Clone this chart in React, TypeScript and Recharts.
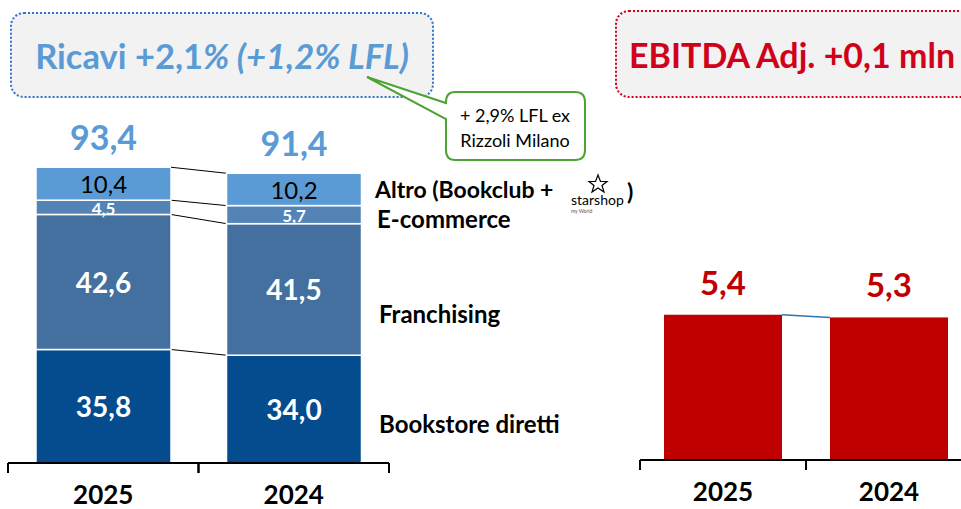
import React from 'react';
import { BarChart, Bar, XAxis, YAxis } from 'recharts';

const years = ['2025', '2024'];
const bookstore = [35.8, 34.0];
const franchising = [42.6, 41.5];
const ecommerce = [4.5, 5.7];
const altro = [10.4, 10.2];
const totals = [93.4, 91.4];
const ebitda = [5.4, 5.3];

const seriesKeys = ['bookstore', 'franchising', 'ecommerce', 'altro'];

const revenueData = years.map((year, i) => ({
  year,
  bookstore: bookstore[i],
  franchising: franchising[i],
  ecommerce: ecommerce[i],
  altro: altro[i],
  total: totals[i],
}));

const ebitdaData = years.map((year, i) => ({ year, value: ebitda[i] }));

const FONT = 'Lato, "Noto Sans", sans-serif';
const fmt = (v: number) => v.toFixed(1).replace('.', ',');

// left chart layout
const L_W = 400;
const L_H = 509;
const L_AXIS_H = 46;
const L_MARGIN = { top: 146, right: 11, bottom: 0, left: 8 };
const L_BAND = (L_W - L_MARGIN.left - L_MARGIN.right) / years.length;
const L_AXIS_Y = L_H - L_AXIS_H;

// right chart layout
const R_W = 373;
const R_H = 509;
const R_AXIS_H = 49;
const R_MARGIN = { top: 191, right: 1, bottom: 0, left: 40 };
const R_BAND = (R_W - R_MARGIN.left - R_MARGIN.right) / years.length;
const R_AXIS_Y = R_H - R_AXIS_H;

const cumTo = (p: any, idx: number) => {
  let s = 0;
  for (let j = 0; j <= idx; j++) s += p[seriesKeys[j]];
  return s;
};

const makeSegment = (key: string, fill: string, labelColor: string, fontSize: number, weight: number) => (props: any) => {
  const { x, y, width, height, payload, index } = props;
  const k = seriesKeys.indexOf(key);
  const value = payload[key];
  const ppu = height / value;
  const base = y + height + cumTo(payload, k - 1) * ppu;
  let connector = null;
  if (index < revenueData.length - 1) {
    const next = revenueData[index + 1];
    const yNext = base - cumTo(next, k) * ppu;
    connector = (
      <line x1={x + width} y1={y} x2={x + L_BAND} y2={yNext} stroke="#000" strokeWidth={1} />
    );
  }
  return (
    <g>
      <rect x={x} y={y} width={width} height={height} fill={fill} stroke="#fff" strokeWidth={1.5} />
      {connector}
      <text
        x={x + width / 2}
        y={y + height / 2 + (key === 'ecommerce' ? 1 : 0)}
        textAnchor="middle"
        dominantBaseline="central"
        fill={labelColor}
        fontSize={fontSize}
        fontWeight={weight}
        fontFamily={FONT}
      >
        {fmt(value)}
      </text>
      {key === 'altro' && (
        <text
          x={x + width / 2}
          y={y - 31}
          textAnchor="middle"
          dominantBaseline="central"
          fill="#5B9BD5"
          fontSize={34}
          fontWeight={700}
          fontFamily={FONT}
        >
          {fmt(payload.total)}
        </text>
      )}
    </g>
  );
};

const EbitdaBar = (props: any) => {
  const { x, y, width, height, payload, index } = props;
  const ppu = height / payload.value;
  const base = y + height;
  let connector = null;
  if (index < ebitdaData.length - 1) {
    const yNext = base - ebitdaData[index + 1].value * ppu;
    connector = <line x1={x + width} y1={y} x2={x + R_BAND} y2={yNext} stroke="#2E75B6" strokeWidth={1.5} />;
  }
  return (
    <g>
      <rect x={x} y={y} width={width} height={height} fill="#C00000" />
      {connector}
      <text
        x={x + width / 2}
        y={y - 33}
        textAnchor="middle"
        dominantBaseline="central"
        fill="#C00000"
        fontSize={33}
        fontWeight={700}
        fontFamily={FONT}
      >
        {fmt(payload.value)}
      </text>
    </g>
  );
};

const makeTick = (band: number, axisY: number, labelOffset: number) => (props: any) => {
  const { x, payload } = props;
  return (
    <g>
      <line x1={x - band / 2} y1={axisY} x2={x - band / 2} y2={axisY + 10} stroke="#000" strokeWidth={2} />
      <line x1={x + band / 2} y1={axisY} x2={x + band / 2} y2={axisY + 10} stroke="#000" strokeWidth={2} />
      <text x={x} y={axisY + labelOffset} textAnchor="middle" dominantBaseline="central" fontSize={26} fontWeight={700} fill="#000" fontFamily={FONT}>
        {payload.value}
      </text>
    </g>
  );
};

const legendStyle: React.CSSProperties = {
  position: 'absolute',
  fontFamily: FONT,
  fontWeight: 700,
  fontSize: 24,
  color: '#000',
  whiteSpace: 'nowrap',
  lineHeight: 1,
};

const App = () => {
  return (
    <div style={{ position: 'absolute', left: 0, top: 0, width: 961, height: 509, overflow: 'hidden', background: '#fff', fontFamily: FONT }}>
      {/* revenue title box */}
      <div
        style={{
          position: 'absolute', left: 10, top: 12, width: 424, height: 86, boxSizing: 'border-box',
          border: '2px dotted #2E75D0', borderRadius: 14, background: '#F2F2F2',
          display: 'flex', alignItems: 'center', justifyContent: 'center',
          color: '#5B9BD5', fontWeight: 700, fontSize: 34.5, whiteSpace: 'nowrap',
        }}
      >
        <span>Ricavi +2,1<i>% (+1,2% LFL)</i></span>
      </div>

      {/* ebitda title box */}
      <div
        style={{
          position: 'absolute', left: 615, top: 10, width: 380, height: 88, boxSizing: 'border-box',
          border: '2px dotted #D0021B', borderRadius: 14, background: '#F2F2F2',
          color: '#D0021B', fontWeight: 700, fontSize: 34, whiteSpace: 'nowrap',
          display: 'flex', alignItems: 'center', paddingLeft: 12,
        }}
      >
        EBITDA Adj. +0,1 mln
      </div>

      {/* callout */}
      <svg width={961} height={509} style={{ position: 'absolute', left: 0, top: 0 }}>
        <path
          d="M 455 92 L 575 92 Q 585 92 585 102 L 585 150 Q 585 160 575 160 L 455 160 Q 446 160 446 150 L 446 119 L 367 77 L 446 103 L 446 102 Q 446 92 455 92 Z"
          fill="#fff"
          stroke="#4EA335"
          strokeWidth={2}
        />
        <text x={515} y={115} textAnchor="middle" dominantBaseline="central" fontSize={18} fontFamily={FONT} fill="#000">+ 2,9% LFL ex</text>
        <text x={515} y={140} textAnchor="middle" dominantBaseline="central" fontSize={18} fontFamily={FONT} fill="#000">Rizzoli Milano</text>
      </svg>

      <div style={{ position: 'absolute', left: 0, top: 0 }}>
        <BarChart width={L_W} height={L_H} data={revenueData} margin={L_MARGIN}>
          <YAxis hide domain={[0, 100]} />
          <XAxis
            dataKey="year"
            height={L_AXIS_H}
            axisLine={{ stroke: '#000', strokeWidth: 2 }}
            tickLine={false}
            tick={makeTick(L_BAND, L_AXIS_Y, 31)}
            interval={0}
          />
          <Bar dataKey="bookstore" stackId="a" barSize={135} isAnimationActive={false} shape={makeSegment('bookstore', '#044C8E', '#fff', 28, 700)} />
          <Bar dataKey="franchising" stackId="a" barSize={135} isAnimationActive={false} shape={makeSegment('franchising', '#43709E', '#fff', 28, 700)} />
          <Bar dataKey="ecommerce" stackId="a" barSize={135} isAnimationActive={false} shape={makeSegment('ecommerce', '#5484B5', '#fff', 17, 700)} />
          <Bar dataKey="altro" stackId="a" barSize={135} isAnimationActive={false} shape={makeSegment('altro', '#5B9BD5', '#000', 24, 400)} />
        </BarChart>
      </div>

      <div style={{ position: 'absolute', left: 600, top: 0 }}>
        <BarChart width={R_W} height={R_H} data={ebitdaData} margin={R_MARGIN}>
          <YAxis hide domain={[0, 10]} />
          <XAxis
            dataKey="year"
            height={R_AXIS_H}
            axisLine={{ stroke: '#000', strokeWidth: 2 }}
            tickLine={false}
            tick={makeTick(R_BAND, R_AXIS_Y, 31)}
            interval={0}
          />
          <Bar dataKey="value" barSize={118} isAnimationActive={false} shape={EbitdaBar} />
        </BarChart>
      </div>

      {/* segment labels */}
      <div style={{ ...legendStyle, fontSize: 23, left: 375, top: 178 }}>Altro (Bookclub +</div>
      <svg width={70} height={44} style={{ position: 'absolute', left: 568, top: 172 }}>
        <polygon
          points="30,3 32.5,9.5 39,9.5 34,13.5 36,20 30,16 24,20 26,13.5 21,9.5 27.5,9.5"
          fill="none"
          stroke="#000"
          strokeWidth={1.2}
        />
        <text x={3} y={33} fontSize={14} fontFamily={FONT} fill="#000">starshop</text>
        <text x={3} y={41} fontSize={5} fontFamily={FONT} fill="#555">my World</text>
        <text x={59} y={28} fontSize={23} fontWeight={700} fontFamily={FONT} fill="#000">)</text>
      </svg>
      <div style={{ ...legendStyle, left: 377, top: 207 }}>E-commerce</div>
      <div style={{ ...legendStyle, left: 379, top: 302 }}>Franchising</div>
      <div style={{ ...legendStyle, left: 379, top: 412 }}>Bookstore diretti</div>
    </div>
  );
};

export default App;
